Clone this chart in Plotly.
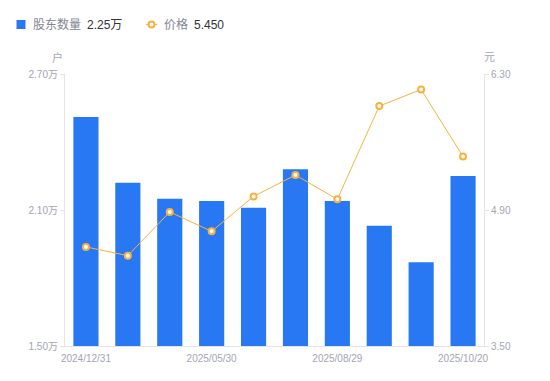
import plotly.graph_objects as go

dates = ["2024/12/31", "2025/03/10", "2025/03/31", "2025/05/30", "2025/06/20",
         "2025/06/30", "2025/08/29", "2025/09/10", "2025/09/30", "2025/10/20"]
shareholders = [2.51, 2.22, 2.15, 2.14, 2.11, 2.28, 2.14, 2.03, 1.87, 2.25]  # 万户
prices = [4.52, 4.43, 4.88, 4.68, 5.04, 5.26, 5.01, 5.97, 6.14, 5.45]
shown_ticks = ["2024/12/31", "2025/05/30", "2025/08/29", "2025/10/20"]
left_ticks = [1.50, 2.10, 2.70]
right_ticks = [3.50, 4.90, 6.30]

GRAY = "#a3a5b3"
LEG = "#838594"
DARK = "#333333"
AXIS = "#e3e3e8"
BLUE = "#2878f4"
ORANGE = "#f9b13d"
FONT = "Liberation Sans, Noto Sans CJK SC, sans-serif"

fig = go.Figure()
fig.add_trace(go.Bar(
    x=dates, y=shareholders, name="股东数量",
    marker=dict(color=BLUE, line=dict(width=0)), width=0.6, yaxis="y",
))
fig.add_trace(go.Scatter(
    x=dates, y=prices, name="价格",
    mode="lines+markers", yaxis="y2",
    line=dict(color=ORANGE, width=1),
    marker=dict(symbol="circle", size=6, color="white", line=dict(color=ORANGE, width=2)),
))

# custom legend (pixel offsets from the top-left corner of the plot area)
shapes = [
    dict(type="rect", xref="paper", yref="paper", xsizemode="pixel", ysizemode="pixel",
         xanchor=0, yanchor=1, x0=-48.5, x1=-39.5, y0=45, y1=54,
         fillcolor=BLUE, line=dict(width=0)),
    dict(type="line", xref="paper", yref="paper", xsizemode="pixel", ysizemode="pixel",
         xanchor=0, yanchor=1, x0=81, x1=92, y0=49.5, y1=49.5,
         line=dict(color=ORANGE, width=1)),
    dict(type="circle", xref="paper", yref="paper", xsizemode="pixel", ysizemode="pixel",
         xanchor=0, yanchor=1, x0=83.5, x1=89.5, y0=46.5, y1=52.5,
         fillcolor="white", line=dict(color=ORANGE, width=2)),
]

def leg_text(txt, xs, color):
    return dict(text=txt, xref="paper", yref="paper", x=0, y=1, xshift=xs, yshift=49.5,
                xanchor="left", yanchor="middle", showarrow=False,
                font=dict(size=12, color=color))

annotations = [
    leg_text(fig.data[0].name, -34, LEG),
    leg_text(f"{shareholders[-1]:.2f}万", 20, DARK),
    leg_text(fig.data[1].name, 97, LEG),
    leg_text(f"{prices[-1]:.3f}", 127, DARK),
    dict(text="户", xref="paper", yref="paper", x=-0.017, y=1.0, yshift=17,
         xanchor="center", yanchor="middle", showarrow=False, font=dict(size=11, color=GRAY)),
    dict(text="元", xref="paper", yref="paper", x=1.012, y=1.0, yshift=17,
         xanchor="center", yanchor="middle", showarrow=False, font=dict(size=11, color=GRAY)),
]

fig.update_layout(
    width=542, height=373,
    margin=dict(l=57, r=66, t=66, b=35),
    paper_bgcolor="white", plot_bgcolor="white",
    font=dict(family=FONT, size=10, color=GRAY),
    showlegend=False,
    bargap=0.4,
    xaxis=dict(type="category", tickmode="array", tickvals=shown_ticks, ticktext=shown_ticks,
               range=[-0.5, len(dates) - 0.5],
               showline=True, linecolor=AXIS, linewidth=1, ticks="", showgrid=False,
               ticklabelstandoff=3,
               tickfont=dict(size=10, color=GRAY), zeroline=False),
    yaxis=dict(range=[left_ticks[0], left_ticks[-1]], tickvals=left_ticks,
               ticktext=[f"{v:.2f}万" for v in left_ticks], showgrid=False, zeroline=False,
               showline=True, linecolor=AXIS, linewidth=1, ticks="outside", ticklen=4,
               tickcolor=AXIS, tickfont=dict(size=10, color=GRAY)),
    yaxis2=dict(range=[right_ticks[0], right_ticks[-1]], tickvals=right_ticks,
                ticktext=[f"{v:.2f}" for v in right_ticks], overlaying="y", side="right",
                showgrid=False, zeroline=False, showline=True, linecolor=AXIS, linewidth=1,
                ticks="outside", ticklen=4, tickcolor=AXIS, tickfont=dict(size=10, color=GRAY)),
    shapes=shapes,
    annotations=annotations,
)

fig.write_html("out.html")
